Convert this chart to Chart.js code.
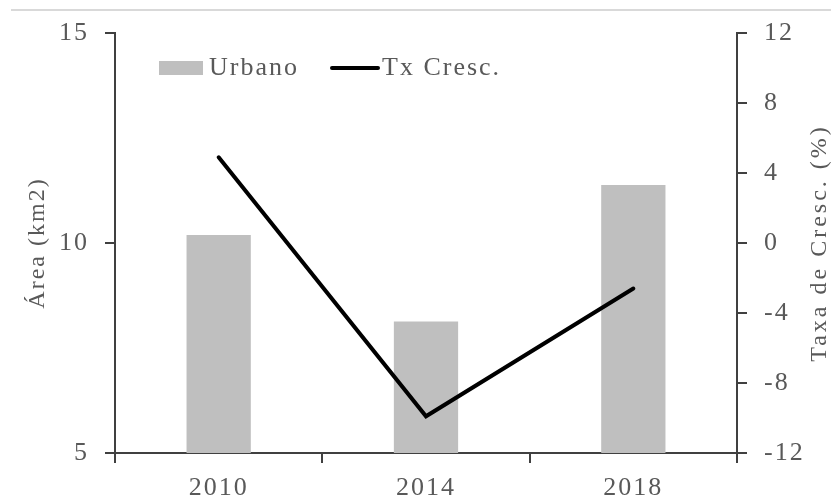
<!DOCTYPE html>
<html><head><meta charset="utf-8">
<script src="https://cdn.jsdelivr.net/npm/chart.js@4.4.1/dist/chart.umd.min.js"></script>
<style>html,body{margin:0;padding:0;background:#fff;}canvas{display:block;}</style>
</head><body>
<canvas id="c" width="831" height="503"></canvas>
<script>
const categories = ['2010', '2014', '2018'];
const urbanoArea = [10.19, 8.13, 11.38];
const taxaCresc = [4.9, -9.9, -2.6];
const leftTicks = [5, 10, 15];
const rightTicks = [-12, -8, -4, 0, 4, 8, 12];
const seriesNames = ['Urbano', 'Tx Cresc.'];
const axisTitles = ['Área (km2)', 'Taxa de Cresc. (%)'];

const FONT = 'Liberation Serif';
const FSIZE = 26;
const TXT = '#595959';
const AXIS = '#404040';
const SPACING = '2px';

const decor = {
  id: 'decor',
  beforeUpdate(chart) { chart.ctx.letterSpacing = SPACING; },
  beforeDraw(chart) {
    const ctx = chart.ctx;
    ctx.letterSpacing = SPACING;
    ctx.save();
    ctx.fillStyle = '#ffffff';
    ctx.fillRect(0, 0, chart.width, chart.height);
    ctx.fillStyle = '#d9d9d9';
    ctx.fillRect(11, 9, chart.width - 11, 2);
    ctx.restore();
  },
  afterDraw(chart) {
    const ctx = chart.ctx;
    const ds = chart.data.datasets;
    ctx.save();
    ctx.letterSpacing = SPACING;
    ctx.font = FSIZE + 'px "' + FONT + '"';
    ctx.fillStyle = TXT;
    ctx.textBaseline = 'middle';
    ctx.textAlign = 'left';
    // legend
    const ly = 68;
    ctx.fillStyle = ds[0].backgroundColor;
    ctx.fillRect(159, 61, 44, 14);
    ctx.fillStyle = TXT;
    ctx.fillText(ds[0].label, 209, ly);
    ctx.strokeStyle = ds[1].borderColor;
    ctx.lineWidth = 4;
    ctx.lineCap = 'round';
    ctx.beginPath(); ctx.moveTo(332, ly); ctx.lineTo(378, ly); ctx.stroke();
    ctx.fillText(ds[1].label, 382, ly);
    // right axis title
    const sc = chart.scales.y1;
    ctx.font = '24px "' + FONT + '"';
    ctx.letterSpacing = '3px';
    ctx.translate(820, (sc.top + sc.bottom) / 2);
    ctx.rotate(-Math.PI / 2);
    ctx.textAlign = 'center';
    ctx.fillText(axisTitles[1], 0, 0);
    ctx.restore();
  }
};

new Chart(document.getElementById('c'), {
  type: 'bar',
  data: {
    labels: categories,
    datasets: [
      { type: 'bar', label: seriesNames[0], data: urbanoArea, yAxisID: 'y',
        backgroundColor: '#bfbfbf', borderWidth: 0, categoryPercentage: 1, barPercentage: 0.31, order: 1 },
      { type: 'line', label: seriesNames[1], data: taxaCresc, yAxisID: 'y1',
        borderColor: '#000000', backgroundColor: '#000000', borderWidth: 4, pointRadius: 0,
        borderCapStyle: 'round', borderJoinStyle: 'miter', tension: 0, order: 0 }
    ]
  },
  options: {
    responsive: false,
    animation: false,
    devicePixelRatio: 1,
    layout: { padding: { top: 33, left: 0, right: 0, bottom: 0 } },
    plugins: { legend: { display: false }, tooltip: { enabled: false } },
    scales: {
      x: {
        offset: true,
        grid: { display: true, drawOnChartArea: false, drawTicks: true, tickLength: 10, color: AXIS, lineWidth: 2, offset: true },
        border: { display: true, color: AXIS, width: 2 },
        ticks: { color: TXT, font: { family: FONT, size: FSIZE }, padding: 10, maxRotation: 0 },
        afterFit: s => { s.height = 50; }
      },
      y: {
        position: 'left', min: 5, max: 15,
        afterBuildTicks: s => { s.ticks = leftTicks.map(v => ({ value: v })); },
        grid: { display: true, drawOnChartArea: false, drawTicks: true, tickLength: 10, color: AXIS, lineWidth: 2 },
        border: { display: true, color: AXIS, width: 2 },
        ticks: { color: TXT, font: { family: FONT, size: FSIZE }, padding: 16 },
        title: { display: true, text: axisTitles[0], color: TXT, font: { family: FONT, size: 24 }, padding: { top: 23, bottom: 0 } },
        afterFit: s => { s.width = 115; }
      },
      y1: {
        position: 'right', min: -12, max: 12,
        afterBuildTicks: s => { s.ticks = rightTicks.map(v => ({ value: v })); },
        grid: { display: true, drawOnChartArea: false, drawTicks: true, tickLength: 10, color: AXIS, lineWidth: 2 },
        border: { display: true, color: AXIS, width: 2 },
        ticks: { color: TXT, font: { family: FONT, size: FSIZE }, padding: 17 },
        afterFit: s => { s.width = 94; }
      }
    }
  },
  plugins: [decor]
});
</script>
</body></html>
